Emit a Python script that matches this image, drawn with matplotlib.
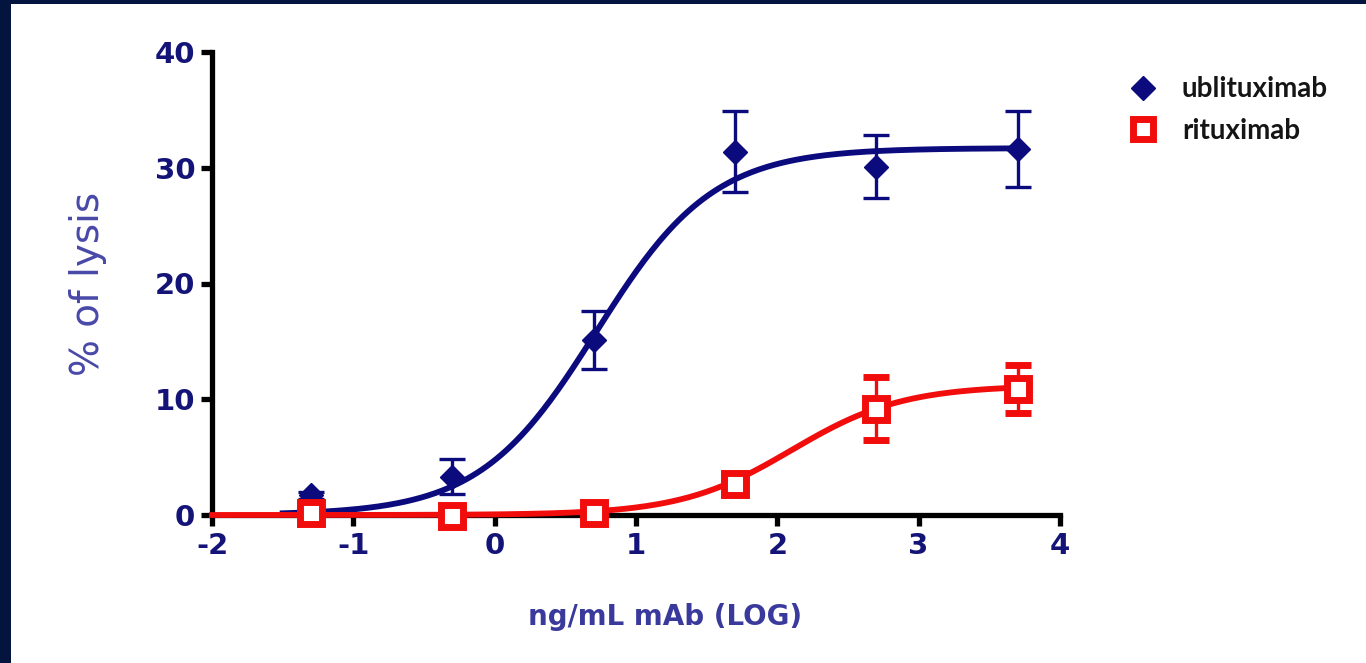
import numpy as np
import matplotlib.pyplot as plt
from matplotlib.patches import Rectangle
from matplotlib.lines import Line2D

# Données
log_dose = [-1.3, -0.3, 0.7, 1.7, 2.7, 3.7]

ubli_mean = [1.7, 3.3, 15.1, 31.4, 30.1, 31.6]
ubli_err = [0.3, 1.5, 2.5, 3.5, 2.7, 3.3]

ritu_mean = [0.2, -0.1, 0.2, 2.7, 9.2, 10.9]
ritu_err = [0.3, 0.3, 0.3, 0.8, 2.7, 2.1]

# Paramètres des courbes sigmoïdes (bottom, top, logEC50, pente)
ubli_fit = (0.0, 31.7, 0.72, 1.05)
ritu_fit = (0.0, 11.2, 2.10, 1.10)

xticks = [-2, -1, 0, 1, 2, 3, 4]
yticks = [0, 10, 20, 30, 40]

navy = '#0b0b7e'
red = '#f20d0d'
tick_col = '#141478'
label_col = '#3a3a9c'


def sigmoid(x, params):
    bottom, top, logec50, hill = params
    return bottom + (top - bottom) / (1 + 10 ** ((logec50 - x) * hill))


fig = plt.figure(figsize=(13.66, 6.63), dpi=100)
fig.patch.set_facecolor('#03143f')
fig.patches.append(Rectangle((11 / 1366, 0), 1, 659 / 663, transform=fig.transFigure,
                             facecolor='white', edgecolor='none', zorder=-5))

ax = fig.add_axes([212 / 1366, 148 / 663, 848 / 1366, 463 / 663])
ax.set_facecolor('none')
ax.set_zorder(2)

xb = np.linspace(-1.5, 3.7, 300)
xr = np.linspace(-2.0, 3.7, 300)
ax.plot(xb, sigmoid(xb, ubli_fit), color=navy, lw=4.2, zorder=3, clip_on=False)
ax.plot(xr, sigmoid(xr, ritu_fit), color=red, lw=4.2, zorder=5, clip_on=False)

ax.errorbar(log_dose, ubli_mean, yerr=ubli_err, fmt='D', color=navy, ms=12.5,
            elinewidth=2.4, capsize=9.5, capthick=2.4, zorder=4, clip_on=False)
ax.errorbar(log_dose, ritu_mean, yerr=ritu_err, fmt='s', color=red, mfc='white', mec=red,
            mew=5, ms=16, elinewidth=2.4, capsize=9.5, capthick=2.4, zorder=6, clip_on=False)

ax.set_xlim(-2, 4)
ax.set_ylim(0, 40)
ax.set_xticks(xticks)
ax.set_yticks(yticks)
ax.set_xticklabels([str(t) for t in xticks])

for s in ['top', 'right']:
    ax.spines[s].set_visible(False)
for s in ['left', 'bottom']:
    ax.spines[s].set_linewidth(3.8)
    ax.spines[s].set_color('black')
    ax.spines[s].set_capstyle('projecting')

ax.tick_params(axis='both', direction='out', length=8, width=3.8, color='black',
               labelsize=21, labelcolor=tick_col, pad=4)
for lab in ax.get_xticklabels() + ax.get_yticklabels():
    lab.set_fontweight('heavy')
    lab.set_family('DejaVu Sans')

ax.set_xlabel('ng/mL mAb (LOG)', fontsize=20, fontweight='bold', color=label_col,
              family='DejaVu Sans')
ax.xaxis.set_label_coords(0.534, -0.19)
ax.set_ylabel('% of lysis', fontsize=28, color='#4848a8', family='DejaVu Sans', labelpad=34)

handles = [
    Line2D([], [], ls='none', marker='D', color=navy, ms=12),
    Line2D([], [], ls='none', marker='s', mfc='white', mec=red, mew=5, ms=15),
]
leg = fig.legend(handles, ['ublituximab', 'rituximab'], loc='upper left',
                 bbox_to_anchor=(1129 / 1366, 0.885), frameon=False, borderpad=0,
                 borderaxespad=0, handlelength=1.0, handletextpad=0.9, labelspacing=0.55,
                 prop={'family': ['Lato', 'DejaVu Sans'], 'weight': 'bold', 'size': 20})
for t in leg.get_texts():
    t.set_color('#151515')

fig.savefig('out.png', dpi=100, facecolor=fig.get_facecolor())
